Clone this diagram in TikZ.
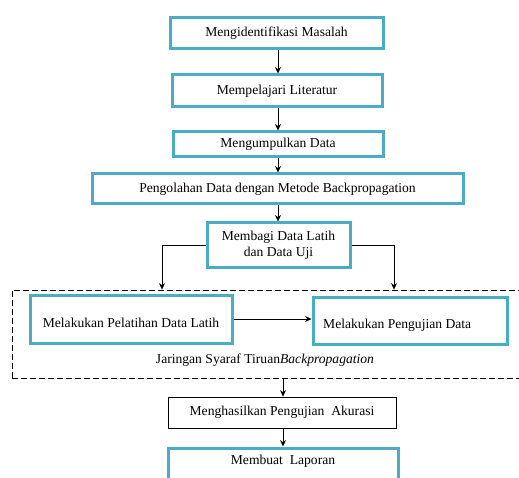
\documentclass[tikz,border=0pt]{standalone}
\usepackage{fontspec}
\setmainfont{Liberation Serif}
\usetikzlibrary{arrows.meta,calc}
\definecolor{aqua}{RGB}{75,172,198}
\tikzset{
  bluebox/.style={draw=aqua, line width=3pt, fill=white, inner sep=0pt, font=\fontsize{13.6}{16}\selectfont, align=center},
  blackbox/.style={draw=black, line width=0.8pt, fill=white, inner sep=0pt, font=\fontsize{13.6}{16}\selectfont},
  arr/.style={draw=black, line width=0.8pt, -{Stealth[length=6.5pt,width=6pt]}},
  lbl/.style={font=\fontsize{13.6}{16}\selectfont, inner sep=0pt}
}
\begin{document}
\begin{tikzpicture}[x=1pt,y=-1pt]
\useasboundingbox (0,0) rectangle (519,478);
\clip (0,0) rectangle (519,478);
\coordinate (ax) at (278,0);
\coordinate (bx) at (283,0);
\coordinate (lx) at (162,0);
\coordinate (rx) at (394,0);
\node[bluebox, minimum width=213pt, minimum height=31pt] (b1) at (276.5,33) {Mengidentifikasi Masalah};
\node[bluebox, minimum width=210pt, minimum height=32pt] (b2) at (277,91) {Mempelajari Literatur};
\node[bluebox, minimum width=210pt, minimum height=25pt] (b3) at (278,144.5) {Mengumpulkan Data};
\node[bluebox, minimum width=371pt, minimum height=30pt] (b4) at (277.5,189) {Pengolahan Data dengan Metode Backpropagation};
\node[bluebox, minimum width=143pt, minimum height=45pt] (b5) at (278.5,245.5) {Membagi Data Latih\\dan Data Uji};
\node[draw=black, dashed, dash pattern=on 6pt off 3pt, line width=0.8pt, minimum width=518pt, minimum height=88pt, inner sep=0pt] (jst) at (271,334) {};
\node[bluebox, minimum width=202pt, minimum height=48pt] (b6) at (131,319) {};
\node[lbl] (b6t) at (131,323) {Melakukan Pelatihan Data Latih};
\node[bluebox, minimum width=194pt, minimum height=47pt] (b7) at (410,320.5) {};
\node[lbl, anchor=west] (b7t) at (323,325) {Melakukan Pengujian Data};
\node[lbl] (jstt) at (265,360) {Jaringan Syaraf Tiruan\textit{Backpropagation}};
\node[blackbox, minimum width=228pt, minimum height=31pt] (b8) at (282,412.5) {Menghasilkan Pengujian\ \ Akurasi};
\node[bluebox, minimum width=230pt, minimum height=44pt] (b9) at (283,470) {};
\node[lbl] (b9t) at (283,461) {Membuat\ \ Laporan};
\draw[arr] (b1.south -| ax) -- (b2.north -| ax);
\draw[arr] (b2.south -| ax) -- (b3.north -| ax);
\draw[arr] (b3.south -| ax) -- (b4.north -| ax);
\draw[arr] (b4.south -| ax) -- (b5.north -| ax);
\draw[arr] (b5.west) -| (lx |- jst.north);
\draw[arr] (b5.east) -| (rx |- jst.north);
\draw[arr] (b6.east) -- (b7.west |- b6.east);
\draw[arr] (jst.south -| bx) -- (b8.north -| bx);
\draw[arr] (b8.south -| bx) -- (b9.north -| bx);
\end{tikzpicture}
\end{document}
